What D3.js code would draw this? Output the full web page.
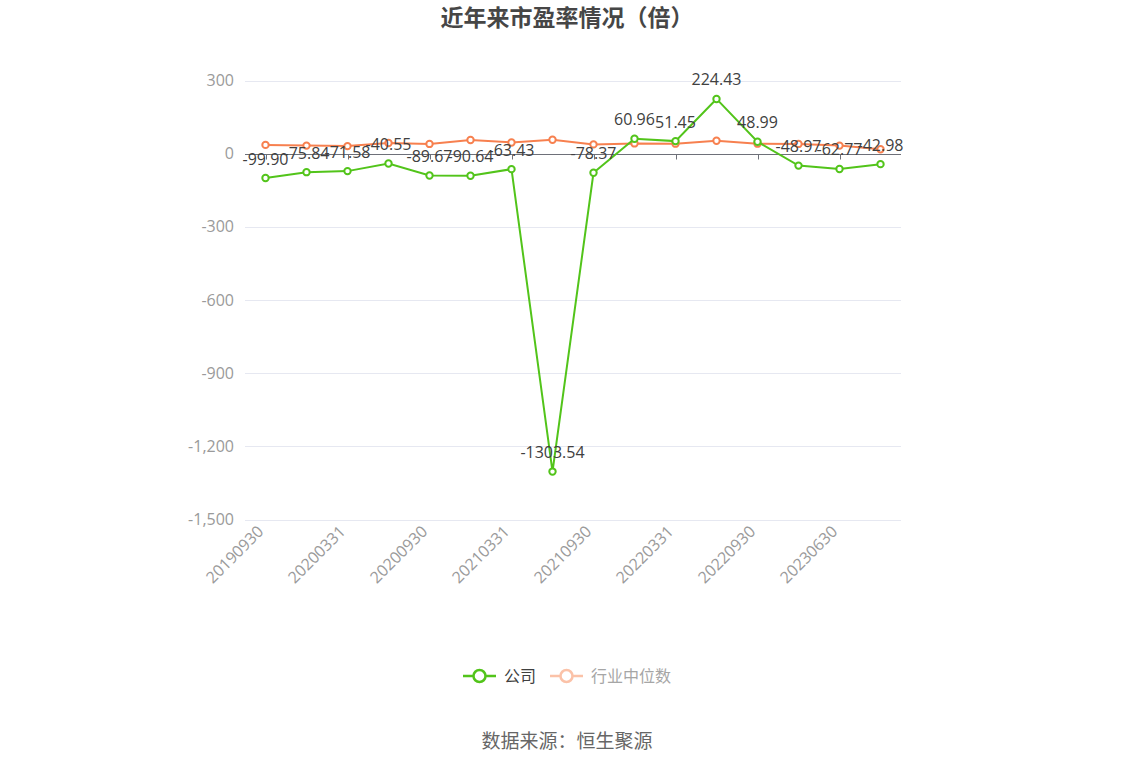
<!DOCTYPE html>
<html>
<head>
<meta charset="utf-8">
<script src="https://cdn.jsdelivr.net/npm/d3@7"></script>
<style>
  body { margin: 0; background: #fff; }
  text { font-family: "Open Sans", "Noto Sans CJK SC", sans-serif; }
  text.cjk { font-family: "Noto Sans CJK SC", sans-serif; }
</style>
</head>
<body>
<div class="chart"></div>
<script>
// data
const dates = ['20190930','20191231','20200331','20200630','20200930','20201231','20210331','20210630',
  '20210930','20211231','20220331','20220630','20220930','20221231','20230630','20230930'];
const company = [-99.90, -75.84, -71.58, -40.55, -89.67, -90.64, -63.43, -1303.54,
  -78.37, 60.96, 51.45, 224.43, 48.99, -48.97, -62.77, -42.98];
const industry = [36, 33, 31, 44, 40, 56, 46, 57, 38, 42, 41, 53, 41, 40, 33, 18];
const yTicks = [300, 0, -300, -600, -900, -1200, -1500];

const width = 1134, height = 766;
const margin = ({top: 80.5, right: 233, bottom: 246.5, left: 245});

const svg = d3.select('.chart')
  .append('svg')
  .attr('width', width)
  .attr('height', height);

const x = d3.scalePoint()
  .domain(dates)
  .range([margin.left, width - margin.right])
  .padding(0.5);

const y = d3.scaleLinear()
  .domain([-1500, 300])
  .range([height - margin.bottom, margin.top]);

// title
svg.append('text')
  .attr('class', 'cjk')
  .attr('x', width / 2)
  .attr('y', 26)
  .attr('text-anchor', 'middle')
  .attr('font-size', 23)
  .attr('font-weight', 'bold')
  .attr('fill', '#464646')
  .text('近年来市盈率情况（倍）');

// grid + y labels
const fmt = d => d3.format(',')(d).replace('−', '-');
const yAxis = svg.append('g');
yAxis.selectAll('line')
  .data(yTicks)
  .enter()
  .append('line')
  .attr('x1', margin.left)
  .attr('x2', width - margin.right)
  .attr('y1', d => Math.round(y(d)) + 0.5)
  .attr('y2', d => Math.round(y(d)) + 0.5)
  .attr('stroke', '#e6e8f1')
  .attr('stroke-width', 1);
yAxis.selectAll('text')
  .data(yTicks)
  .enter()
  .append('text')
  .attr('x', margin.left - 11)
  .attr('y', d => y(d))
  .attr('dy', '0.35em')
  .attr('text-anchor', 'end')
  .attr('font-size', 16)
  .attr('fill', '#9a9a9a')
  .text(fmt);

// zero axis line with ticks
const y0 = Math.round(y(0)) + 0.5;
svg.append('line')
  .attr('x1', margin.left)
  .attr('x2', width - margin.right)
  .attr('y1', y0)
  .attr('y2', y0)
  .attr('stroke', '#6e7079');
const labelled = dates.filter((d, i) => i % 2 === 0);
svg.selectAll('line.tick')
  .data(labelled)
  .enter()
  .append('line')
  .attr('class', 'tick')
  .attr('x1', d => Math.round(x(d)) + 0.5)
  .attr('x2', d => Math.round(x(d)) + 0.5)
  .attr('y1', y0)
  .attr('y2', y0 + 5)
  .attr('stroke', '#6e7079');

// x labels, rotated
svg.selectAll('text.xlab')
  .data(labelled)
  .enter()
  .append('text')
  .attr('class', 'xlab')
  .attr('text-anchor', 'end')
  .attr('font-size', 16)
  .attr('fill', '#9a9a9a')
  .attr('transform', d => 'translate(' + (x(d) - 1) + ',' + (height - margin.bottom + 13) + ') rotate(-45)')
  .text(d => d);

const line = d3.line()
  .x((d, i) => x(dates[i]))
  .y(d => y(d));

function drawSeries(values, color) {
  svg.append('path')
    .datum(values)
    .attr('d', line)
    .attr('fill', 'none')
    .attr('stroke', color)
    .attr('stroke-width', 2);
  svg.append('g')
    .selectAll('circle')
    .data(values)
    .enter()
    .append('circle')
    .attr('cx', (d, i) => x(dates[i]))
    .attr('cy', d => y(d))
    .attr('r', 3.2)
    .attr('fill', '#fff')
    .attr('stroke', color)
    .attr('stroke-width', 2);
}

drawSeries(industry, '#f7804f');
drawSeries(company, '#52c41a');

// value labels on company series
svg.append('g')
  .selectAll('text')
  .data(company)
  .enter()
  .append('text')
  .attr('x', (d, i) => x(dates[i]))
  .attr('y', d => y(d) - 13.5)
  .attr('text-anchor', 'middle')
  .attr('font-size', 16)
  .attr('fill', '#404040')
  .text(d => d.toFixed(2));

// legend
const legend = svg.append('g').attr('transform', 'translate(0,676)');
const items = [
  {name: '公司', color: '#52c41a', text: '#404040', x: 463},
  {name: '行业中位数', color: '#fbc2a8', text: '#a6a6a6', x: 550}
];
items.forEach(it => {
  legend.append('line')
    .attr('x1', it.x).attr('x2', it.x + 33)
    .attr('y1', 0).attr('y2', 0)
    .attr('stroke', it.color).attr('stroke-width', 2.5);
  legend.append('circle')
    .attr('cx', it.x + 16.5).attr('cy', 0).attr('r', 6)
    .attr('fill', '#fff').attr('stroke', it.color).attr('stroke-width', 2.5);
  legend.append('text')
    .attr('class', 'cjk')
    .attr('x', it.x + 41).attr('y', 0).attr('dy', '0.35em')
    .attr('font-size', 16).attr('fill', it.text)
    .text(it.name);
});

// source
svg.append('text')
  .attr('class', 'cjk')
  .attr('x', width / 2)
  .attr('y', 741)
  .attr('dy', '0.35em')
  .attr('text-anchor', 'middle')
  .attr('font-size', 19)
  .attr('fill', '#666')
  .text('数据来源：恒生聚源');
</script>
</body>
</html>
